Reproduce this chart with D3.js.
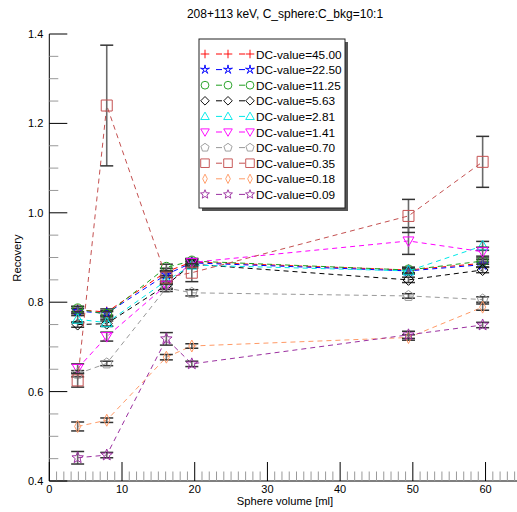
<!DOCTYPE html>
<html>
<head>
<meta charset="utf-8">
<script src="https://cdn.jsdelivr.net/npm/d3@7/dist/d3.min.js"></script>
<style>
  html, body { margin: 0; padding: 0; background: #fff; }
  svg { display: block; font-family: "Liberation Sans", Arial, Helvetica, sans-serif; }
</style>
</head>
<body>
<svg id="chart" width="517" height="512"></svg>
<script>
// Sphere volumes [ml]
const volumes = [3.9, 7.9, 16.1, 19.6, 49.4, 59.6];

// DC-values, one series each
const dcLabels = ["45.00", "22.50", "11.25", "5.63", "2.81", "1.41", "0.70", "0.35", "0.18", "0.09"];

// Recovery per DC-value
const rec45   = [0.783, 0.778, 0.868, 0.890, 0.872, 0.887];
const rec22   = [0.780, 0.775, 0.862, 0.888, 0.870, 0.884];
const rec11   = [0.785, 0.773, 0.878, 0.892, 0.872, 0.892];
const rec5    = [0.750, 0.752, 0.838, 0.885, 0.850, 0.872];
const rec2    = [0.762, 0.754, 0.848, 0.883, 0.870, 0.926];
const rec1    = [0.652, 0.723, 0.838, 0.889, 0.937, 0.913];
const rec07   = [0.640, 0.663, 0.832, 0.821, 0.814, 0.806];
const rec035  = [0.625, 1.240, 0.855, 0.866, 0.993, 1.114];
const rec018  = [0.522, 0.536, 0.677, 0.702, 0.721, 0.789];
const rec009  = [0.452, 0.458, 0.718, 0.662, 0.727, 0.749];

// Standard deviations
const err45   = [0.007, 0.007, 0.008, 0.006, 0.006, 0.008];
const err22   = [0.006, 0.006, 0.007, 0.006, 0.006, 0.006];
const err11   = [0.006, 0.006, 0.007, 0.006, 0.006, 0.007];
const err5    = [0.006, 0.006, 0.007, 0.006, 0.006, 0.006];
const err2    = [0.008, 0.008, 0.008, 0.007, 0.007, 0.010];
const err1    = [0.010, 0.010, 0.009, 0.008, 0.030, 0.010];
const err07   = [0.007, 0.005, 0.008, 0.007, 0.005, 0.006];
const err035  = [0.015, 0.135, 0.014, 0.020, 0.037, 0.057];
const err018  = [0.010, 0.005, 0.006, 0.005, 0.006, 0.007];
const err009  = [0.014, 0.006, 0.014, 0.006, 0.008, 0.006];

// Axis tick labels
const xTickValues = [0, 10, 20, 30, 40, 50, 60];
const yTickValues = [0.4, 0.6, 0.8, 1.0, 1.2, 1.4];

const titleText = "208+113 keV, C_sphere:C_bkg=10:1";
const xTitle = "Sphere volume [ml]";
const yTitle = "Recovery";

const seriesValues = [rec45, rec22, rec11, rec5, rec2, rec1, rec07, rec035, rec018, rec009];
const seriesErrors = [err45, err22, err11, err5, err2, err1, err07, err035, err018, err009];
const seriesColors = ["#ff0000", "#0000ff", "#1e9e1e", "#000000", "#00e8e8",
                      "#ff00ff", "#999999", "#c45050", "#ff9a66", "#9b30a0"];
const seriesSymbols = ["plus", "asterisk", "circle", "diamond", "triUp",
                       "triDown", "pentagon", "square", "thinDiamond", "star"];

// Marker outlines
function polygon(n, r, rot) {
  const pts = [];
  for (let i = 0; i < n; i++) {
    const a = rot + i * 2 * Math.PI / n;
    pts.push([r * Math.cos(a), r * Math.sin(a)]);
  }
  return "M" + pts.map(p => p[0].toFixed(2) + "," + p[1].toFixed(2)).join("L") + "Z";
}
function starPath(R, r) {
  const pts = [];
  for (let i = 0; i < 10; i++) {
    const a = -Math.PI / 2 + i * Math.PI / 5;
    const rad = i % 2 === 0 ? R : r;
    pts.push([rad * Math.cos(a), rad * Math.sin(a)]);
  }
  return "M" + pts.map(p => p[0].toFixed(2) + "," + p[1].toFixed(2)).join("L") + "Z";
}
const symbolPaths = {
  plus: "M-5.5,0H5.5M0,-5.5V5.5",
  asterisk: starPath(6, 1.6),
  circle: "M5,0A5,5 0 1,1 -5,0A5,5 0 1,1 5,0Z",
  diamond: "M0,-5.5L5.5,0L0,5.5L-5.5,0Z",
  triUp: "M0,-5.5L5.5,4L-5.5,4Z",
  triDown: "M0,5.5L5.5,-4L-5.5,-4Z",
  pentagon: polygon(5, 5.5, -Math.PI / 2),
  square: "M-5.5,-5.5H5.5V5.5H-5.5Z",
  thinDiamond: "M0,-6L3,0L0,6L-3,0Z",
  star: starPath(6, 2.6)
};

const svg = d3.select("#chart");

const x = d3.scaleLinear().domain([0, 65]).range([49.3, 521.9]);
const y = d3.scaleLinear().domain([0.4, 1.4]).range([481, 34]);

// Title
svg.append("text")
  .attr("x", 285).attr("y", 18)
  .attr("text-anchor", "middle")
  .attr("font-size", 12)
  .text(titleText);

// Axes with inward ticks
const gx = svg.append("g").attr("transform", `translate(0,${y(0.4)})`);
gx.append("line").attr("x1", x(0)).attr("x2", 517).attr("stroke", "#000");
gx.selectAll("line.minor").data(d3.range(1, 65).filter(v => v % 10 !== 0))
  .join("line").attr("class", "minor")
  .attr("x1", d => x(d)).attr("x2", d => x(d))
  .attr("y1", 0).attr("y2", -9.5)
  .attr("stroke", "#999").attr("stroke-width", 1);
gx.selectAll("line.major").data(xTickValues)
  .join("line").attr("class", "major")
  .attr("x1", d => x(d)).attr("x2", d => x(d))
  .attr("y1", 0).attr("y2", -19)
  .attr("stroke", "#000").attr("stroke-width", 1);
gx.selectAll("text").data(xTickValues)
  .join("text")
  .attr("x", d => x(d)).attr("y", 11.5)
  .attr("text-anchor", "middle").attr("font-size", 11)
  .text(d => d3.format("d")(d));

const gy = svg.append("g").attr("transform", `translate(${x(0)},0)`);
gy.append("line").attr("y1", y(0.4)).attr("y2", y(1.4)).attr("stroke", "#000");
gy.selectAll("line.minor").data(d3.range(0, 21).map(i => 0.4 + i * 0.05).filter((v, i) => i % 4 !== 0))
  .join("line").attr("class", "minor")
  .attr("x1", 0).attr("x2", 9)
  .attr("y1", d => y(d)).attr("y2", d => y(d))
  .attr("stroke", "#999");
gy.selectAll("line.major").data(yTickValues)
  .join("line").attr("class", "major")
  .attr("x1", 0).attr("x2", 18)
  .attr("y1", d => y(d)).attr("y2", d => y(d))
  .attr("stroke", "#000");
gy.selectAll("text").data(yTickValues)
  .join("text")
  .attr("x", -6).attr("y", d => y(d) + 4)
  .attr("text-anchor", "end").attr("font-size", 11)
  .text(d => d3.format(".1f")(d));

// Axis titles
svg.append("text")
  .attr("x", 285).attr("y", 505)
  .attr("text-anchor", "middle").attr("font-size", 11.2)
  .text(xTitle);
svg.append("text")
  .attr("transform", `translate(21,258) rotate(-90)`)
  .attr("text-anchor", "middle").attr("font-size", 11.2)
  .text(yTitle);

// Series: dashed line, error bars, markers
const lineGen = d3.line().x(d => x(d.v)).y(d => y(d.r));
const plot = svg.append("g");
seriesValues.forEach((vals, si) => {
  const pts = vals.map((r, i) => ({ v: volumes[i], r, e: seriesErrors[si][i] }));
  const g = plot.append("g");
  g.append("path").datum(pts)
    .attr("d", lineGen)
    .attr("fill", "none")
    .attr("stroke", seriesColors[si])
    .attr("stroke-width", 1)
    .attr("stroke-dasharray", "5,4");

  const eb = g.selectAll("g.err").data(pts).join("g").attr("class", "err");
  eb.append("line")
    .attr("x1", d => x(d.v)).attr("x2", d => x(d.v))
    .attr("y1", d => y(d.r - d.e)).attr("y2", d => y(d.r + d.e))
    .attr("stroke", "#6a6a6a").attr("stroke-width", 1.6);
  eb.append("line")
    .attr("x1", d => x(d.v) - 6.5).attr("x2", d => x(d.v) + 6.5)
    .attr("y1", d => y(d.r + d.e)).attr("y2", d => y(d.r + d.e))
    .attr("stroke", "#333").attr("stroke-width", 1.5);
  eb.append("line")
    .attr("x1", d => x(d.v) - 6.5).attr("x2", d => x(d.v) + 6.5)
    .attr("y1", d => y(d.r - d.e)).attr("y2", d => y(d.r - d.e))
    .attr("stroke", "#333").attr("stroke-width", 1.5);

  g.selectAll("path.mk").data(pts).join("path").attr("class", "mk")
    .attr("transform", d => `translate(${x(d.v)},${y(d.r)})`)
    .attr("d", symbolPaths[seriesSymbols[si]])
    .attr("fill", "none")
    .attr("stroke", seriesColors[si])
    .attr("stroke-width", 1);
});

// Legend
const lg = svg.append("g");
const lgX = 199, lgY = 39, lgW = 146, lgH = 169;
lg.append("rect").attr("x", lgX + 3).attr("y", lgY + 3).attr("width", lgW).attr("height", lgH)
  .attr("fill", "#555");
lg.append("rect").attr("x", lgX).attr("y", lgY).attr("width", lgW).attr("height", lgH)
  .attr("fill", "#fff").attr("stroke", "#222").attr("stroke-width", 1);
dcLabels.forEach((lab, si) => {
  const cy = 54 + si * 15.6;
  const row = lg.append("g").attr("transform", `translate(0,${cy})`);
  row.append("line").attr("x1", 205).attr("x2", 251).attr("y1", 0).attr("y2", 0)
    .attr("stroke", seriesColors[si]).attr("stroke-width", 1)
    .attr("stroke-dasharray", "0 11 6 17 6 100");
  [205, 228, 250].forEach(sx => {
    row.append("path").attr("transform", `translate(${sx},0) scale(0.78)`)
      .attr("d", symbolPaths[seriesSymbols[si]])
      .attr("fill", "none").attr("stroke", seriesColors[si])
      .attr("stroke-width", 1.2);
  });
  row.append("text").attr("x", 256).attr("y", 4.5)
    .attr("font-size", 11.8)
    .text("DC-value=" + lab);
});
</script>
</body>
</html>
